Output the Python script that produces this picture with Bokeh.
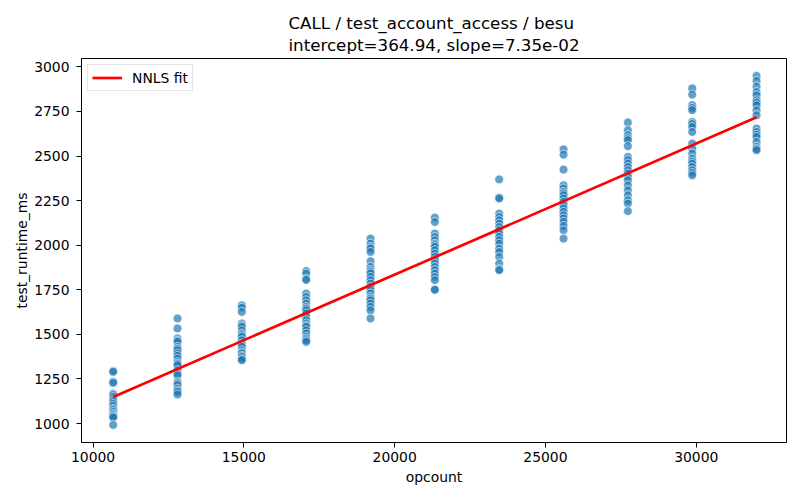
from bokeh.plotting import figure
from bokeh.models import FixedTicker, Range1d, Legend, LegendItem, ColumnDataSource
from bokeh.embed import file_html
from bokeh.resources import INLINE

# ---- data ----
opcount_levels = [10667, 12800, 14933, 17067, 19200, 21333, 23467, 25600, 27733, 29867, 32000]
rt_10667 = [1295, 1290, 1235, 1228, 1168, 1160, 1149, 1135, 1125, 1112, 1100, 1084, 1075, 1065, 1055, 1047, 1040, 1034, 992]
rt_12800 = [1589, 1533, 1477, 1465, 1458, 1430, 1420, 1411, 1393, 1380, 1364, 1345, 1335, 1327, 1299, 1280, 1270, 1233, 1225, 1215, 1196, 1185, 1177, 1163]
rt_14933 = [1663, 1650, 1626, 1561, 1550, 1542, 1523, 1505, 1495, 1486, 1467, 1449, 1440, 1430, 1411, 1400, 1393, 1380, 1374, 1362, 1355]
rt_17067 = [1855, 1841, 1813, 1805, 1729, 1710, 1691, 1673, 1654, 1645, 1635, 1617, 1598, 1579, 1561, 1550, 1542, 1523, 1505, 1486, 1475, 1467, 1458]
rt_19200 = [2037, 2009, 1990, 1981, 1962, 1910, 1878, 1860, 1850, 1841, 1822, 1804, 1785, 1766, 1748, 1729, 1710, 1700, 1691, 1673, 1654, 1635, 1589]
rt_21333 = [2155, 2130, 2065, 2046, 2028, 2009, 2000, 1990, 1972, 1953, 1934, 1916, 1897, 1878, 1860, 1841, 1822, 1804, 1752, 1750]
rt_23467 = [2369, 2267, 2262, 2177, 2158, 2140, 2121, 2102, 2084, 2065, 2046, 2028, 2009, 1981, 1962, 1934, 1897, 1865, 1860]
rt_25600 = [2537, 2508, 2424, 2336, 2318, 2299, 2290, 2280, 2262, 2243, 2224, 2206, 2187, 2168, 2150, 2131, 2108, 2084, 2037]
rt_27733 = [2688, 2645, 2617, 2600, 2589, 2555, 2495, 2477, 2458, 2439, 2420, 2402, 2383, 2364, 2336, 2308, 2280, 2252, 2234, 2191]
rt_29867 = [2879, 2845, 2785, 2770, 2757, 2691, 2680, 2663, 2635, 2570, 2542, 2514, 2486, 2470, 2458, 2439, 2420, 2405, 2392]
rt_32000 = [2949, 2921, 2890, 2859, 2841, 2813, 2800, 2785, 2757, 2729, 2654, 2635, 2620, 2607, 2579, 2551, 2540, 2533]

intercept = 364.94
slope = 7.35e-02
x_ticks = [10000, 15000, 20000, 25000, 30000]
y_ticks = [1000, 1250, 1500, 1750, 2000, 2250, 2500, 2750, 3000]

runtime_groups = [rt_10667, rt_12800, rt_14933, rt_17067, rt_19200, rt_21333,
                  rt_23467, rt_25600, rt_27733, rt_29867, rt_32000]
xs, ys = [], []
for lvl, grp in zip(opcount_levels, runtime_groups):
    xs.extend([lvl] * len(grp))
    ys.extend(grp)

fit_x = [min(opcount_levels), max(opcount_levels)]
fit_y = [intercept + slope * v for v in fit_x]

FONT = "DejaVu Sans"

p = figure(frame_width=705, frame_height=384,
           min_border_left=81, min_border_right=14, min_border_top=58, min_border_bottom=58,
           output_backend="svg", toolbar_location=None,
           x_range=Range1d(9616, 32993), y_range=Range1d(893.5, 3047))

p.title.text = "CALL / test_account_access / besu\nintercept=364.94, slope=7.35e-02"
p.title.align = "center"
p.title.text_font = FONT
p.title.text_font_size = "16.7px"
p.title.text_font_style = "normal"
p.title.text_color = "black"
p.title.text_line_height = 1.14
p.title.standoff = 6

p.xgrid.visible = False
p.ygrid.visible = False
p.outline_line_color = "black"
p.outline_line_width = 1
p.background_fill_color = "white"
p.border_fill_color = "white"

for ax in (p.xaxis[0], p.yaxis[0]):
    ax.axis_line_color = "black"
    ax.major_tick_line_color = "black"
    ax.major_tick_out = 5
    ax.major_tick_in = 0
    ax.minor_tick_line_color = None
    ax.major_label_text_font = FONT
    ax.major_label_text_font_size = "13.9px"
    ax.major_label_text_color = "black"
    ax.axis_label_text_font = FONT
    ax.axis_label_text_font_size = "13.9px"
    ax.axis_label_text_font_style = "normal"
    ax.axis_label_text_color = "black"

p.xaxis.major_label_standoff = 4
p.yaxis.major_label_standoff = 7
p.xaxis.ticker = FixedTicker(ticks=x_ticks)
p.yaxis.ticker = FixedTicker(ticks=y_ticks)
p.xaxis.axis_label = "opcount"
p.yaxis.axis_label = "test_runtime_ms"
p.xaxis.axis_label_standoff = 4
p.yaxis.axis_label_standoff = 1

src = ColumnDataSource(dict(x=xs, y=ys))
p.scatter("x", "y", source=src, size=8.8, fill_color="#1f77b4", line_color="white",
          line_width=0.9, alpha=0.7)

fit = p.line(fit_x, fit_y, line_color="red", line_width=2.7)

legend = Legend(items=[LegendItem(label="NNLS fit", renderers=[fit])], location="top_left")
legend.label_text_font = FONT
legend.label_text_font_size = "13.9px"
legend.label_text_color = "black"
legend.border_line_color = "#cccccc"
legend.border_line_width = 1
legend.background_fill_alpha = 0.8
legend.margin = 6
legend.padding = 4
legend.glyph_width = 30
legend.glyph_height = 17
legend.label_standoff = 10
legend.spacing = 0
p.add_layout(legend, "center")

open("out.html", "w").write(file_html(p, INLINE))
